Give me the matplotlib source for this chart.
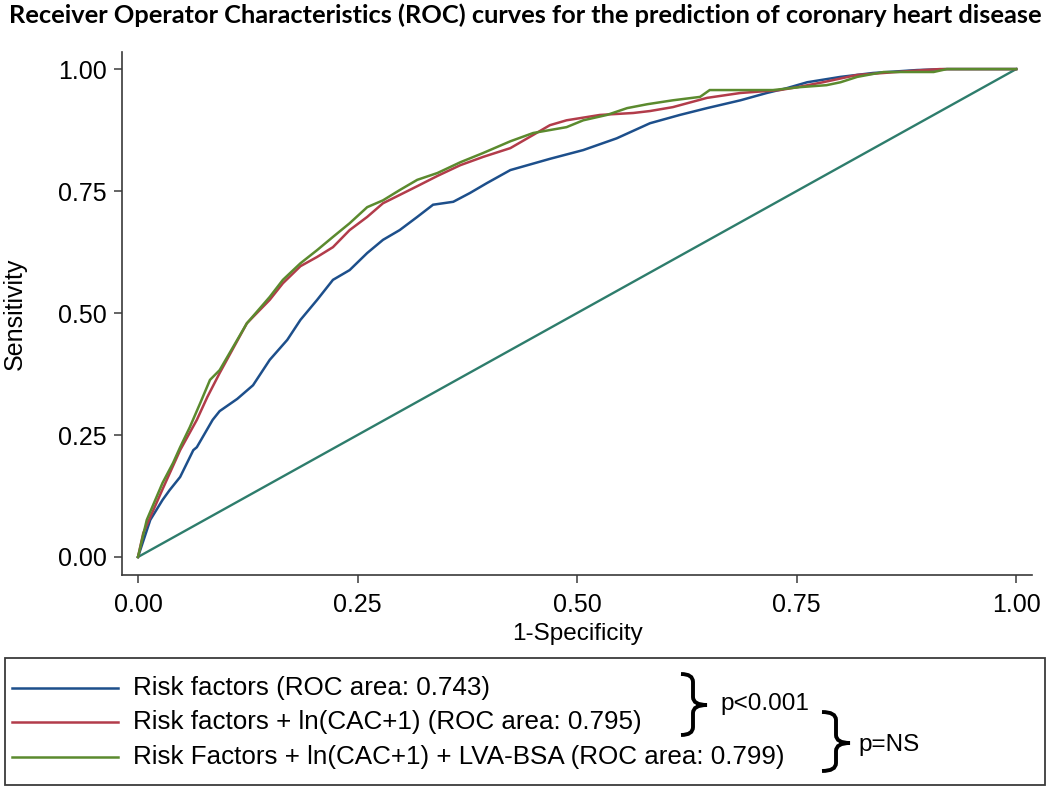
import matplotlib
matplotlib.use("Agg")
import matplotlib.pyplot as plt
from matplotlib.path import Path
from matplotlib.patches import PathPatch, Rectangle
from matplotlib.lines import Line2D

# ---------------- data ----------------
rf_x = [0, 0.014, 0.028, 0.036, 0.048, 0.063, 0.067, 0.085, 0.093, 0.113, 0.131, 0.150,
        0.170, 0.185, 0.204, 0.222, 0.241, 0.261, 0.279, 0.298, 0.318, 0.336, 0.359, 0.378,
        0.397, 0.424, 0.469, 0.507, 0.545, 0.583, 0.617, 0.648, 0.686, 0.716, 0.739, 0.762,
        0.800, 0.837, 0.887, 0.921, 1.0]
rf_y = [0, 0.076, 0.117, 0.137, 0.164, 0.219, 0.225, 0.281, 0.299, 0.324, 0.352, 0.404,
        0.445, 0.486, 0.527, 0.568, 0.588, 0.623, 0.650, 0.670, 0.697, 0.722, 0.728, 0.746,
        0.766, 0.793, 0.816, 0.834, 0.858, 0.889, 0.906, 0.920, 0.936, 0.951, 0.961, 0.973,
        0.984, 0.992, 0.998, 1.0, 1.0]

cac_x = [0, 0.006, 0.028, 0.048, 0.067, 0.079, 0.093, 0.124, 0.150, 0.165, 0.185, 0.204,
         0.222, 0.241, 0.261, 0.279, 0.298, 0.318, 0.341, 0.367, 0.393, 0.424, 0.450, 0.469,
         0.488, 0.526, 0.564, 0.583, 0.609, 0.648, 0.686, 0.731, 0.751, 0.780, 0.819, 0.849,
         0.894, 0.913, 1.0]
cac_y = [0, 0.049, 0.139, 0.219, 0.281, 0.328, 0.377, 0.479, 0.527, 0.561, 0.596, 0.615,
         0.635, 0.670, 0.697, 0.725, 0.742, 0.760, 0.781, 0.803, 0.820, 0.838, 0.865, 0.885,
         0.895, 0.906, 0.910, 0.914, 0.922, 0.941, 0.951, 0.957, 0.963, 0.973, 0.988, 0.992,
         0.998, 1.0, 1.0]

lva_x = [0, 0.010, 0.028, 0.040, 0.048, 0.059, 0.071, 0.082, 0.093, 0.124, 0.150, 0.165,
         0.185, 0.204, 0.222, 0.241, 0.261, 0.279, 0.298, 0.318, 0.341, 0.367, 0.393, 0.424,
         0.450, 0.469, 0.488, 0.507, 0.534, 0.557, 0.580, 0.609, 0.640, 0.651, 0.723, 0.754,
         0.784, 0.800, 0.819, 0.849, 0.906, 0.921, 1.0]
lva_y = [0, 0.076, 0.152, 0.193, 0.225, 0.266, 0.316, 0.363, 0.383, 0.479, 0.533, 0.568,
         0.602, 0.629, 0.656, 0.684, 0.717, 0.731, 0.752, 0.773, 0.787, 0.809, 0.828, 0.852,
         0.869, 0.875, 0.881, 0.895, 0.906, 0.920, 0.928, 0.936, 0.943, 0.957, 0.957, 0.963,
         0.967, 0.973, 0.984, 0.994, 0.994, 1.0, 1.0]

ref_x = [0, 1]
ref_y = [0, 1]

series_labels = ["Risk factors (ROC area: 0.743)",
                 "Risk factors + ln(CAC+1) (ROC area: 0.795)",
                 "Risk Factors + ln(CAC+1) + LVA-BSA (ROC area: 0.799)"]
series_colors = ["#1d4f8b", "#b23c4a", "#5b8a2e"]
ref_color = "#2e7d6c"
ticks = [0, 0.25, 0.5, 0.75, 1.0]
tick_labels = ["0.00", "0.25", "0.50", "0.75", "1.00"]
title = "Receiver Operator Characteristics (ROC) curves for the prediction of coronary heart disease"

# ---------------- layout ----------------
W, H = 1050, 791
plt.rcParams['font.family'] = ['Liberation Sans', 'DejaVu Sans']
fig = plt.figure(figsize=(W / 100, H / 100), dpi=100)
fig.patch.set_facecolor("white")

ax = fig.add_axes([122 / W, 1 - 575 / H, 910 / W, 523 / H])
ax.plot(ref_x, ref_y, color=ref_color, lw=1.7, zorder=2)
for xs, ys, c in zip([rf_x, cac_x, lva_x], [rf_y, cac_y, lva_y], series_colors):
    ax.plot(xs, ys, color=c, lw=1.8, zorder=3, solid_joinstyle="miter")

ax.set_xlim(-0.0182, 1.018)
ax.set_ylim(-0.0369, 1.035)
ax.set_xticks(ticks)
ax.set_xticklabels(tick_labels)
ax.set_yticks(ticks)
ax.set_yticklabels(tick_labels)
for s in ["top", "right"]:
    ax.spines[s].set_visible(False)
for s in ["left", "bottom"]:
    ax.spines[s].set_color("#3a3a3a")
    ax.spines[s].set_linewidth(1.2)
ax.tick_params(axis="both", direction="out", length=6, width=1.1, color="#3a3a3a",
               labelsize=18, labelcolor="black")
ax.tick_params(axis="y", pad=5)
ax.tick_params(axis="x", pad=7)
ax.set_xlabel("1-Specificity", fontsize=17.5, labelpad=4)
ax.set_ylabel("Sensitivity", fontsize=18, labelpad=22)

fig.text(525 / W, 1 - 15 / H, title, ha="center", va="center",
         fontsize=18.3, fontweight="bold", family=["Lato", "DejaVu Sans"])

# legend box (manual)
fig.add_artist(Rectangle((5 / W, 1 - 785 / H), 1040 / W, 127 / H, transform=fig.transFigure,
                         fill=False, ec="#3a3a3a", lw=1.3))
rows = [688, 722, 757]
for lab, c, ry in zip(series_labels, series_colors, rows):
    fig.add_artist(Line2D([12 / W, 118 / W], [1 - ry / H, 1 - ry / H], transform=fig.transFigure,
                          color=c, lw=1.8))
    fig.text(133 / W, 1 - ry / H, lab, ha="left", va="center", fontsize=18.7)


def brace(x0, x1, x2, yt, ym, yb, r):
    pts = [(x0, yt), (x1, yt), (x1, yt + r), (x1, ym - r), (x1, ym), (x2, ym),
           (x1, ym), (x1, ym + r), (x1, yb - r), (x1, yb), (x0, yb)]
    codes = [Path.MOVETO, Path.CURVE3, Path.CURVE3, Path.LINETO, Path.CURVE3, Path.CURVE3,
             Path.CURVE3, Path.CURVE3, Path.LINETO, Path.CURVE3, Path.CURVE3]
    verts = [(x / W, 1 - y / H) for x, y in pts]
    fig.add_artist(PathPatch(Path(verts, codes), transform=fig.transFigure, fill=False,
                             ec="black", lw=2.8, capstyle="butt"))


brace(681, 693, 707, 674, 705, 735, 8)
fig.text(720 / W, 1 - 704 / H, "p<0.001", ha="left", va="center", fontsize=17.5)
brace(822, 836, 850, 712, 743, 771, 8)
fig.text(858 / W, 1 - 745 / H, "p=NS", ha="left", va="center", fontsize=17.5)

fig.savefig("out.png", dpi=100)
